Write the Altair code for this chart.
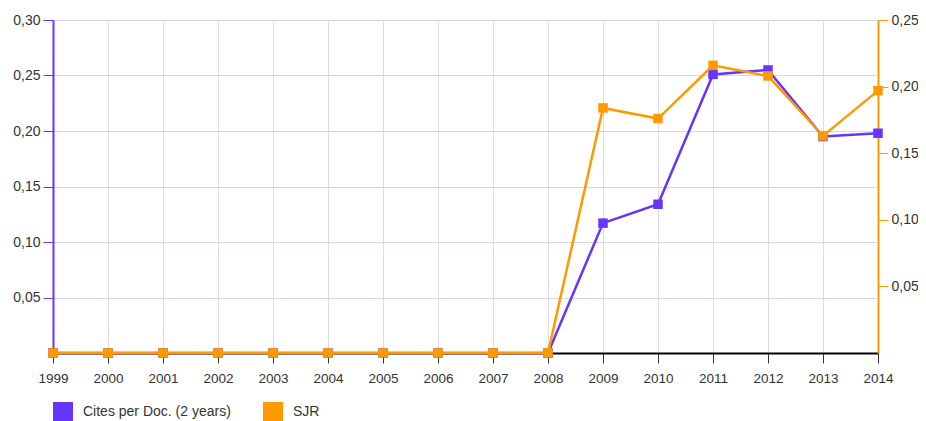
import altair as alt
import pandas as pd

years = list(range(1999, 2015))
cites = [0, 0, 0, 0, 0, 0, 0, 0, 0, 0, 0.117, 0.134, 0.251, 0.255, 0.195, 0.198]
sjr = [0, 0, 0, 0, 0, 0, 0, 0, 0, 0, 0.184, 0.176, 0.216, 0.208, 0.163, 0.197]
series_names = ["Cites per Doc. (2 years)", "SJR"]
colors = ["#6633FF", "#FF9900"]
left_ticks = [0.05, 0.10, 0.15, 0.20, 0.25, 0.30]
right_ticks = [0.05, 0.10, 0.15, 0.20, 0.25]

df_c = pd.DataFrame({"year": years, "value": cites, "series": series_names[0]})
df_s = pd.DataFrame({"year": years, "value": sjr, "series": series_names[1]})

FONT = "Liberation Sans"
label_expr = "replace(format(datum.value, '.2f'), '.', ',')"

x = alt.X(
    "year:Q",
    scale=alt.Scale(domain=[1999, 2014], nice=False, zero=False),
    axis=alt.Axis(
        values=years, format="d", title=None, grid=True, gridColor="#dedede",
        domainColor="#000000", domainWidth=2, tickColor="#333333", tickSize=10,
        labelPadding=8, labelFontSize=13.5, labelColor="#333333", labelFont=FONT,
        labelFlush=False, labelOverlap=False, zindex=0,
    ),
)

y_left = alt.Y(
    "value:Q",
    scale=alt.Scale(domain=[0, 0.30], nice=False),
    axis=alt.Axis(
        orient="left", values=left_ticks, labelExpr=label_expr, title=None,
        grid=True, gridColor="#d6d6f2", domainColor=colors[0], domainWidth=2,
        tickColor=colors[0], tickSize=10, labelPadding=3, labelFontSize=14,
        labelColor="#333333", labelFont=FONT, zindex=0,
    ),
)

y_right = alt.Y(
    "value:Q",
    scale=alt.Scale(domain=[0, 0.25], nice=False),
    axis=alt.Axis(
        orient="right", values=right_ticks, labelExpr=label_expr, title=None,
        grid=False, domainColor=colors[1], domainWidth=2,
        tickColor=colors[1], tickSize=10, labelPadding=3, labelFontSize=14,
        labelColor="#333333", labelFont=FONT, zindex=0,
    ),
)

color = alt.Color(
    "series:N",
    scale=alt.Scale(domain=series_names, range=colors),
    legend=alt.Legend(
        title=None, orient="none", legendX=0, legendY=382, direction="horizontal",
        symbolType="square", symbolSize=400, symbolStrokeWidth=0, symbolOpacity=1,
        labelOffset=10, columnPadding=32, labelFontSize=14, labelColor="#333333",
        labelFont=FONT, labelLimit=300, padding=0,
    ),
)

line_c = alt.Chart(df_c).mark_line(color=colors[0], strokeWidth=2.5).encode(x=x, y=y_left)
pts_c = alt.Chart(df_c).mark_square(size=90, opacity=1).encode(x=x, y=y_left, color=color)
line_s = alt.Chart(df_s).mark_line(color=colors[1], strokeWidth=2.5).encode(x=x, y=y_right)
pts_s = alt.Chart(df_s).mark_square(size=90, opacity=1).encode(x=x, y=y_right, color=color)

layer_c = alt.layer(line_c, pts_c)
layer_s = alt.layer(line_s, pts_s)

chart = (
    alt.layer(layer_c, layer_s)
    .resolve_scale(y="independent")
    .properties(
        width=825, height=333,
        autosize=alt.AutoSizeParams(type="none"),
        padding={"left": 45, "top": 12, "right": 40, "bottom": 68},
    )
    .configure_view(stroke=None)
)

chart.save("out.html", embed_options={"renderer": "svg", "actions": False})
